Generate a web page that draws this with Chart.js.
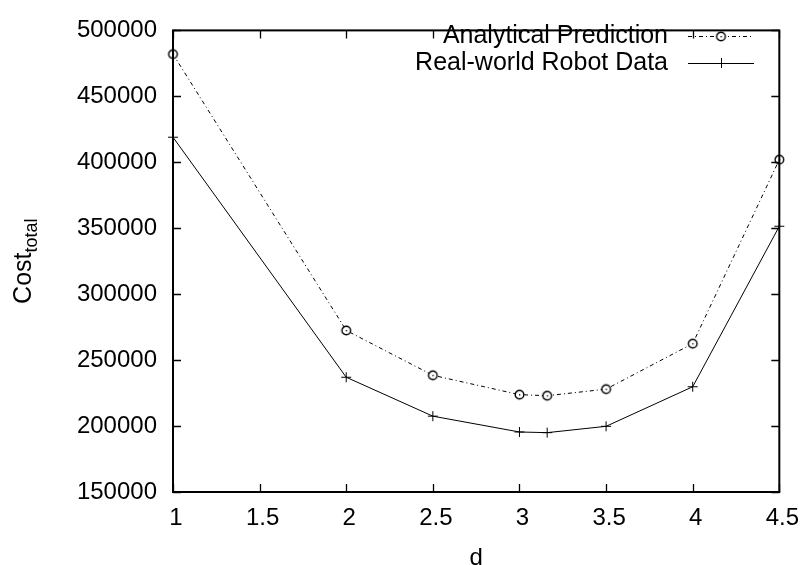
<!DOCTYPE html>
<html>
<head>
<meta charset="utf-8">
<script src="https://cdn.jsdelivr.net/npm/chart.js@4/dist/chart.umd.min.js"></script>
<style>
  html, body { margin: 0; padding: 0; background: #fff; }
  #wrap { width: 808px; height: 565px; }
</style>
</head>
<body>
<div id="wrap"><canvas id="c" width="808" height="565"></canvas></div>
<script>
// Distance d and total cost for each configuration
const dValues = [1, 2, 2.5, 3, 3.16, 3.5, 4, 4.5];
const analyticalCost = [482000, 272500, 238500, 223800, 223000, 228000, 262500, 402000];
const robotCost = [419000, 237000, 207500, 195500, 195000, 199800, 229800, 351500];

const seriesLabels = ['Analytical Prediction', 'Real-world Robot Data'];
const xTickValues = [1, 1.5, 2, 2.5, 3, 3.5, 4, 4.5];
const yTickValues = [150000, 200000, 250000, 300000, 350000, 400000, 450000, 500000];

const FONT = "'Liberation Sans', Arial, Helvetica, sans-serif";

// Open circle with a small centre dot
function circleMarker() {
  const c = document.createElement('canvas');
  c.width = 13; c.height = 13;
  const g = c.getContext('2d');
  g.fillStyle = '#fff';
  g.beginPath(); g.arc(6.5, 6.5, 4.5, 0, Math.PI * 2); g.fill();
  g.strokeStyle = '#000'; g.lineWidth = 1.4;
  g.beginPath(); g.arc(6.5, 6.5, 4.3, 0, Math.PI * 2); g.stroke();
  g.fillStyle = '#000';
  g.fillRect(6, 6, 1.3, 1.3);
  return c;
}
const circleImg = circleMarker();

function pts(ys) { return dValues.map((x, i) => ({ x, y: ys[i] })); }

// Border box, inward ticks on all sides, legend and axis titles
const decorations = {
  id: 'decorations',
  afterDraw(chart) {
    const ctx = chart.ctx;
    const a = chart.chartArea;
    const xs = chart.scales.x, ys = chart.scales.y;
    ctx.save();
    ctx.strokeStyle = '#000';
    ctx.lineWidth = 1.3;
    ctx.beginPath();
    xTickValues.forEach(v => {
      const px = Math.round(xs.getPixelForValue(v)) + 0.5;
      ctx.moveTo(px, a.bottom); ctx.lineTo(px, a.bottom - 8);
      ctx.moveTo(px, a.top); ctx.lineTo(px, a.top + 8);
    });
    yTickValues.forEach(v => {
      const py = Math.round(ys.getPixelForValue(v)) + 0.5;
      ctx.moveTo(a.left, py); ctx.lineTo(a.left + 8, py);
      ctx.moveTo(a.right, py); ctx.lineTo(a.right - 8, py);
    });
    ctx.stroke();
    ctx.lineWidth = 2;
    ctx.strokeRect(a.left, a.top, a.right - a.left, a.bottom - a.top);

    // legend
    ctx.font = '25px ' + FONT;
    ctx.fillStyle = '#000';
    ctx.textAlign = 'right';
    ctx.textBaseline = 'middle';
    const rows = [36, 63];
    chart.data.datasets.forEach((ds, i) => {
      const y = rows[i];
      ctx.fillText(ds.label, 668, y);
      ctx.save();
      ctx.lineWidth = 1;
      ctx.strokeStyle = ds.borderColor;
      ctx.setLineDash(ds.borderDash || []);
      ctx.beginPath(); ctx.moveTo(688, y + 0.5); ctx.lineTo(754, y + 0.5); ctx.stroke();
      ctx.setLineDash([]);
      if (i === 0) {
        ctx.drawImage(circleImg, 721 - 6.5, y - 6);
      } else {
        ctx.beginPath();
        ctx.moveTo(716, y + 0.5); ctx.lineTo(726, y + 0.5);
        ctx.moveTo(721.5, y - 5); ctx.lineTo(721.5, y + 5);
        ctx.stroke();
      }
      ctx.restore();
    });

    // x title
    ctx.font = '24px ' + FONT;
    ctx.textAlign = 'center';
    ctx.textBaseline = 'alphabetic';
    ctx.fillText('d', (a.left + a.right) / 2, 564.5);

    // y title with subscript
    ctx.save();
    ctx.translate(31, (a.top + a.bottom) / 2);
    ctx.rotate(-Math.PI / 2);
    ctx.font = '25px ' + FONT;
    const w1 = ctx.measureText('Cost').width;
    ctx.font = '18px ' + FONT;
    const w2 = ctx.measureText('total').width;
    const start = -(w1 + w2) / 2;
    ctx.textAlign = 'left';
    ctx.font = '25px ' + FONT;
    ctx.fillText('Cost', start, 0);
    ctx.font = '18px ' + FONT;
    ctx.fillText('total', start + w1, 6);
    ctx.restore();
    ctx.restore();
  }
};

new Chart(document.getElementById('c'), {
  type: 'line',
  data: {
    datasets: [
      {
        label: seriesLabels[0],
        data: pts(analyticalCost),
        borderColor: '#000',
        borderWidth: 1,
        borderDash: [4, 3, 1, 3],
        pointStyle: circleImg,
        pointRadius: 5,
        clip: false,
        tension: 0
      },
      {
        label: seriesLabels[1],
        data: pts(robotCost),
        borderColor: '#000',
        borderWidth: 1,
        pointStyle: 'cross',
        pointRadius: 5,
        pointBorderWidth: 1,
        pointBorderColor: '#000',
        clip: false,
        tension: 0
      }
    ]
  },
  options: {
    responsive: false,
    animation: false,
    events: [],
    layout: { padding: { left: 0, top: 17, right: 24, bottom: 0 } },
    plugins: { legend: { display: false }, tooltip: { enabled: false } },
    scales: {
      x: {
        type: 'linear',
        min: 1, max: 4.5,
        grid: { display: false, drawTicks: false },
        border: { display: false },
        afterBuildTicks(s) { s.ticks = xTickValues.map(v => ({ value: v })); },
        afterFit(s) { s.height = 73; },
        ticks: {
          padding: 12,
          labelOffset: 3,
          maxRotation: 0,
          autoSkip: false,
          color: '#000',
          font: { family: FONT, size: 24 },
          callback: v => String(v)
        }
      },
      y: {
        min: 150000, max: 500000,
        grid: { display: false, drawTicks: false },
        border: { display: false },
        afterBuildTicks(s) { s.ticks = yTickValues.map(v => ({ value: v })); },
        afterFit(s) { s.width = 173; },
        ticks: {
          padding: 16,
          autoSkip: false,
          color: '#000',
          font: { family: FONT, size: 24 },
          callback: v => String(v)
        }
      }
    }
  },
  plugins: [decorations]
});
</script>
</body>
</html>
